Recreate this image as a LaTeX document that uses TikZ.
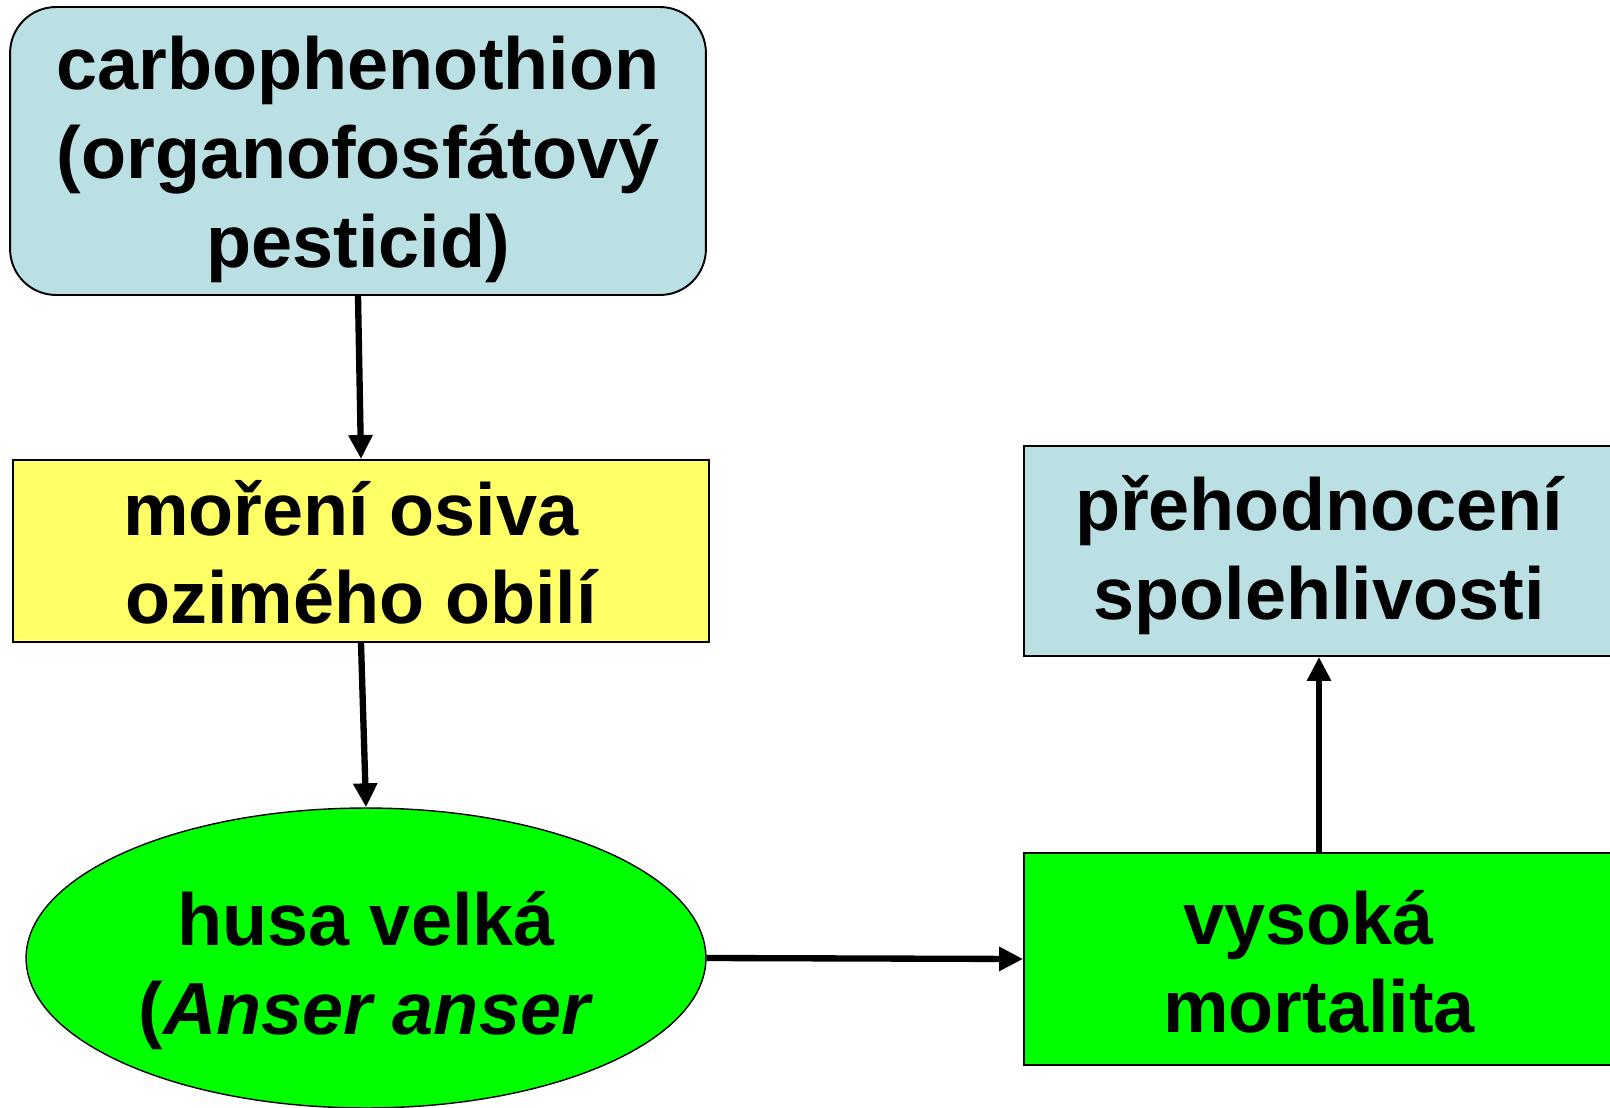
\documentclass[tikz,border=0pt]{standalone}
\usepackage{fontspec}
\setmainfont{Liberation Sans}
\usetikzlibrary{arrows.meta,shapes.geometric}
\definecolor{pesticidblue}{HTML}{BBE0E3}
\definecolor{moreniyellow}{HTML}{FFFF66}
\definecolor{husagreen}{HTML}{00FF00}
\newcommand{\topstrut}[1]{\rule{0pt}{#1}}

\begin{document}
\begin{tikzpicture}[x=0.02cm,y=-0.02cm,
		box/.style={draw=black,line width=1.1pt,align=center,inner sep=0pt,
			font=\fontsize{42}{50.5}\selectfont\bfseries},
		arr/.style={-{Triangle[length=0.48cm,width=0.46cm]},line width=3.6pt}]
			\useasboundingbox (0,0) rectangle (1610,1108);
			%\draw[help lines,step=100] (0,0) grid (1610,1108);
			
			\node[box,fill=pesticidblue,rounded corners=0.92cm,minimum width=13.92cm,minimum height=5.76cm] (pesticid) at (358,151) {\topstrut{40pt}carbophenothion\\(organofosfátový\\pesticid)};
			\node[box,fill=moreniyellow,minimum width=13.92cm,minimum height=3.64cm] (moreni) at (361,551) {\topstrut{33pt}moření osiva\ \mbox{}\\ozimého obilí};
			\node[box,ellipse,line width=0.8pt,fill=husagreen,minimum width=13.6cm,minimum height=6cm] (husa) at (366,958) {\topstrut{45pt}husa velká\\(\textit{Anser anser}};
			\node[box,fill=husagreen,minimum width=11.8cm,minimum height=4.24cm] (mortalita) at (1319,959) {\topstrut{34pt}vysoká\ \mbox{}\\mortalita};
			\node[box,fill=pesticidblue,minimum width=11.8cm,minimum height=4.2cm] (spolehlivost) at (1319,551) {\topstrut{36pt}přehodnocení\\spolehlivosti};
			
			\draw[arr] (pesticid.south) -- (moreni.north);
			\draw[arr] (moreni.south) -- (husa.north);
			\draw[arr] (husa.east) -- (mortalita.west);
			\draw[arr] (mortalita.north) -- (spolehlivost.south);
		\end{tikzpicture}
\end{document}
